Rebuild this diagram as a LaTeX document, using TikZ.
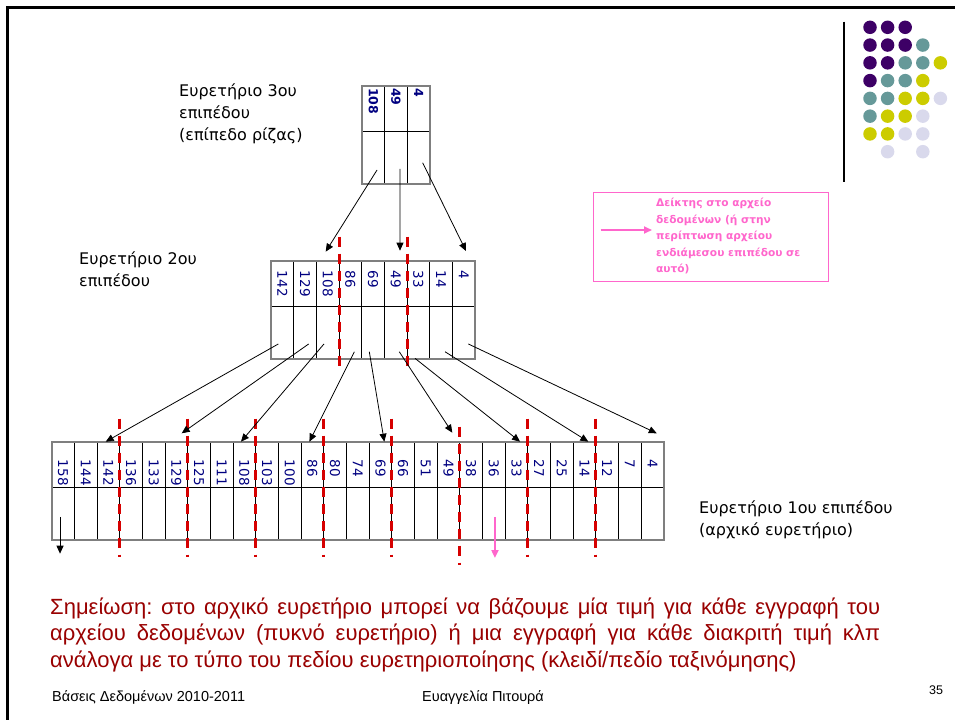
\documentclass[tikz,border=0pt]{standalone}
\usepackage{fontspec}
\setmainfont{DejaVu Sans}
\newfontfamily\notefont{Liberation Sans}
\newfontfamily\footfont{Liberation Sans}
\usepackage{tikz}
\usetikzlibrary{arrows.meta,calc}
\definecolor{IXNavy}{HTML}{000080}
\definecolor{IXRed}{HTML}{D60000}
\definecolor{IXPink}{HTML}{FF66CC}
\definecolor{IXNote}{HTML}{990000}
\definecolor{IXGray}{HTML}{7F7F7F}
\definecolor{DotP}{HTML}{3D0066}
\definecolor{DotT}{HTML}{669999}
\definecolor{DotY}{HTML}{CCCC00}
\definecolor{DotL}{HTML}{D9D9EC}
\frenchspacing

\begin{document}
\begin{tikzpicture}[x=1pt,y=-1pt,
    keycell/.style={draw=black,line width=0.8pt,minimum width=22.67pt,minimum height=45.5pt,inner sep=0pt,outer sep=0pt},
    ptrcell/.style={keycell,minimum height=52.5pt},
    keyval/.style={rotate=-90,anchor=west,inner sep=0pt,text=IXNavy,font=\fontsize{13.5}{13.5}\selectfont},
    outline/.style={draw=IXGray,line width=1.6pt},
    ptr/.style={-{Triangle[length=8pt,width=7pt]},line width=0.8pt},
    cutline/.style={draw=IXRed,line width=3pt,dash pattern=on 10pt off 7pt},
    lvltext/.style={align=left,anchor=north west,inner sep=0pt,font=\fontsize{16}{22}\selectfont},
    note/.style={anchor=base west,inner sep=0pt,text=IXNote,font=\notefont\fontsize{22}{26}\selectfont},
    foot/.style={anchor=base west,inner sep=0pt,font=\footfont\fontsize{14.5}{16}\selectfont},
    logodot/.style={circle,inner sep=0pt,minimum size=13.5pt}
  ]
  \useasboundingbox (0,0) rectangle (955,720);
  \draw[line width=2.4pt] (955,7.3) -- (7.3,7.3) -- (7.3,720);

  % root
  \foreach \v [count=\i from 0] in {108,49,4} {
    \node[keycell] (c\i) at (362+22.67*\i+11.335,108.75) {};
    \node[ptrcell] (pc\i) at (362+22.67*\i+11.335,157.75) {};
    \node[keyval,font=\bfseries\fontsize{12.5}{12.5}\selectfont] at ([yshift=-2pt]c\i.north) {\v};
  }
  \draw[outline] (c0.north west) rectangle (pc2.south east);

  % level 2
  \foreach \v [count=\i from 0] in {142,129,108,86,69,49,33,14,4} {
    \node[keycell] (b\i) at (271+22.67*\i+11.335,283.45) {};
    \node[ptrcell] (pb\i) at (271+22.67*\i+11.335,332.45) {};
    \node[keyval] at ([yshift=-10pt]b\i.north) {\v};
  }
  \draw[outline] (b0.north west) rectangle (pb8.south east);

  % level 1
  \foreach \v [count=\i from 0] in {158,144,142,136,133,129,125,111,108,103,100,86,80,74,69,66,51,49,38,36,33,27,25,14,12,7,4} {
    \node[keycell] (a\i) at (51.7+22.67*\i+11.335,464.45) {};
    \node[ptrcell] (pa\i) at (51.7+22.67*\i+11.335,513.45) {};
    \node[keyval] at ([yshift=-18pt]a\i.north) {\v};
  }
  \draw[outline] (a0.north west) rectangle (pa26.south east);

  \foreach \k in {3,6}
    \draw[cutline] ($(b\k.north west)+(0,-24)$) -- ($(pb\k.south west)+(0,14)$);
  \foreach \k/\e in {3/0,6/0,9/0,12/0,15/0,18/8,21/0,24/0}
    \draw[cutline] ($(a\k.north west)+(0,-23+\e)$) -- ($(pa\k.south west)+(0,17+\e)$);

  \foreach \s/\sx/\sy/\t/\tx/\ty in {0/3.7/12.25/2/-2/-9,1/4/11/5/4.3/-10,2/4/5/8/2.3/-9.7}
    \draw[ptr] ($(pc\s)+(\sx,\sy)$) -- ($(b\t.north)+(\tx,\ty)$);
  \foreach \s/\sx/\sy/\t/\tx/\ty in {0/-4/11.5/2/-2.7/0,1/3.7/11.5/5/5.3/-8.4,2/-3.7/11.5/8/-3.4/0,
      3/4/19.3/11/-3/0,4/-3.7/19.3/14/3.9/0,5/3.6/19.3/17/3.9/-9,6/-3.3/25.9/20/3.6/0,
      7/4/19.3/23/3.9/0,8/4.6/11.5/26/4.3/-8.4}
    \draw[ptr] ($(pb\s)+(\sx,\sy)$) -- ($(a\t.north)+(\tx,\ty)$);
  \draw[ptr] ($(pa0)+(-3,3.5)$) -- ($(pa0.south)+(-3,14)$);
  \draw[ptr,draw=IXPink,line width=2.5pt] ($(pa19)+(1.2,3.5)$) -- ($(pa19.south)+(1.2,18.3)$);

  \node[lvltext] (lvl3) at (179,84) {Ευρετήριο 3ου\\επιπέδου\\(επίπεδο ρίζας)};
  \node[lvltext] (lvl2) at (79,251) {Ευρετήριο 2ου\\επιπέδου};
  \node[lvltext] (lvl1) at (699,500) {Ευρετήριο 1ου επιπέδου\\(αρχικό ευρετήριο)};

  % legend
  \node[draw=IXPink,line width=1.3pt,minimum width=235pt,minimum height=89pt,inner sep=0pt] (legbox) at (710.8,237.2) {};
  \node[anchor=north west,align=left,inner sep=0pt,text=IXPink,font=\bfseries\fontsize{10.6}{16.5}\selectfont] (legtxt) at (656,198)
    {Δείκτης στο αρχείο\\δεδομένων (ή στην\\περίπτωση αρχείου\\ενδιάμεσου επιπέδου σε\\αυτό)};
  \coordinate (legtail) at (600.7,230);
  \draw[ptr,draw=IXPink,line width=1.8pt] (legtail) -- ($(legtail -| legtxt.west)+(-4,0)$);

  % logo
  \draw[line width=2pt] (844,21.7) -- (844,181.7);
  \foreach \r/\cl in {0/{P,P,P},1/{P,P,P,T},2/{P,P,T,T,Y},3/{P,T,T,Y},4/{T,T,Y,Y,L},5/{T,Y,Y,L},6/{Y,Y,L,L}}
    \foreach \c [count=\k from 0] in \cl
      \node[logodot,fill=Dot\c] (dot\r\k) at (870+17.6*\k,27.3+17.77*\r) {};
  \foreach \k in {1,3}
    \node[logodot,fill=DotL] (dot7\k) at (870+17.6*\k,151.7) {};

  % note and footer
  \node[note] (note1) at (50,614) {\makebox[830pt][s]{Σημείωση: στο αρχικό ευρετήριο μπορεί να βάζουμε μία τιμή για κάθε εγγραφή του}};
  \node[note] (note2) at (50,640.5) {\makebox[830pt][s]{αρχείου δεδομένων (πυκνό ευρετήριο) ή μια εγγραφή για κάθε διακριτή τιμή κλπ}};
  \node[note] (note3) at (50,667) {ανάλογα με το τύπο του πεδίου ευρετηριοποίησης (κλειδί/πεδίο ταξινόμησης)};
  \node[foot] (foot1) at (52,701) {Βάσεις Δεδομένων 2010-2011};
  \node[foot] (foot2) at (422,701) {Ευαγγελία Πιτουρά};
  \node[foot,font=\footfont\fontsize{12.5}{14}\selectfont] (foot3) at (929,694) {35};
\end{tikzpicture}
\end{document}
